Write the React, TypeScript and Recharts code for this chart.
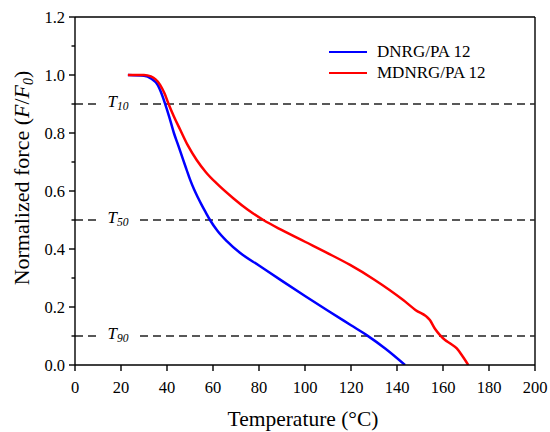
import React from "react";
import { LineChart, Line, XAxis, YAxis, ReferenceLine } from "recharts";

const dnrgTemp = [23, 30, 33, 36, 37, 39, 41, 43, 45, 47, 48.5, 50, 51.8, 53.6, 55, 57, 58.7, 62, 66, 71.7, 80, 90, 100, 110, 120, 126.8, 135, 143.5];
const dnrgForce = [1.0, 0.997, 0.988, 0.965, 0.948, 0.905, 0.855, 0.8, 0.755, 0.708, 0.674, 0.64, 0.605, 0.575, 0.553, 0.524, 0.5, 0.462, 0.427, 0.387, 0.343, 0.29, 0.238, 0.187, 0.137, 0.103, 0.056, 0.0];

const mdnrgTemp = [23, 30, 33, 37, 39, 40.6, 43, 45.7, 49, 52.9, 57, 61.6, 68.8, 75, 81.9, 90, 100, 110, 119.6, 130, 142.7, 148, 154.3, 156.5, 158.7, 160.9, 163, 166, 168.5, 171];
const mdnrgForce = [1.0, 1.0, 0.995, 0.966, 0.935, 0.902, 0.857, 0.812, 0.758, 0.707, 0.664, 0.626, 0.575, 0.536, 0.5, 0.465, 0.425, 0.385, 0.345, 0.295, 0.224, 0.19, 0.155, 0.125, 0.103, 0.086, 0.075, 0.057, 0.03, 0.0];

const xTicks = [0, 20, 40, 60, 80, 100, 120, 140, 160, 180, 200];
const yTicks = [0, 0.1, 0.2, 0.3, 0.4, 0.5, 0.6, 0.7, 0.8, 0.9, 1.0, 1.1, 1.2];
const yMajor = [0, 0.2, 0.4, 0.6, 0.8, 1.0, 1.2];
const thresholds = [0.9, 0.5, 0.1];
const thresholdSubs = ["10", "50", "90"];

const seriesNames = ["DNRG/PA 12", "MDNRG/PA 12"];
const seriesColors = ["#0000ff", "#ff0000"];

const dnrgData = dnrgTemp.map((t, i) => ({ t, f: dnrgForce[i] }));
const mdnrgData = mdnrgTemp.map((t, i) => ({ t, f: mdnrgForce[i] }));

const FONT = "Liberation Serif";
const fontStyle = { fontFamily: FONT };

const YTick = (props: any) => {
  const { x, y, payload } = props;
  const v = payload.value;
  const isMajor = yMajor.some((m) => Math.abs(m - v) < 1e-6);
  return (
    <g>
      <line x1={x - (isMajor ? 6 : 3.5)} x2={x} y1={y} y2={y} stroke="#000" strokeWidth={1.4} />
      {isMajor && (
        <text x={x - 10} y={y} dy="0.35em" textAnchor="end" fontSize={16.5} fontFamily={FONT} style={fontStyle} fill="#000">
          {v.toFixed(1)}
        </text>
      )}
    </g>
  );
};

const XTick = (props: any) => {
  const { x, y, payload } = props;
  return (
    <text x={x} y={y} dy="0.71em" textAnchor="middle" fontSize={16.5} fontFamily={FONT} style={fontStyle} fill="#000">
      {payload.value}
    </text>
  );
};

const TLabel = (props: any) => {
  const { viewBox, sub } = props;
  const cx = viewBox.x + 43;
  const cy = viewBox.y;
  return (
    <g>
      <rect x={cx - 20} y={cy - 10} width={40} height={18} fill="#fff" />
      <text x={cx} y={cy + 3} textAnchor="middle" style={fontStyle} fontStyle="italic" fill="#000" fontSize={17}>
        T
        <tspan fontSize={11.5} dy={3}>{sub}</tspan>
      </text>
    </g>
  );
};

const YLabel = (props: any) => {
  const { viewBox } = props;
  const x = viewBox.x + 29;
  const y = 178;
  return (
    <text x={x} y={y} transform={`rotate(-90, ${x}, ${y})`} textAnchor="middle" style={fontStyle} fontSize={22} fill="#000">
      Normalized force (<tspan fontStyle="italic">F</tspan>/<tspan fontStyle="italic">F</tspan>
      <tspan fontStyle="italic" fontSize={14} dy={4}>0</tspan>
      <tspan dy={-4}>)</tspan>
    </text>
  );
};

const XLabel = (props: any) => {
  const { viewBox } = props;
  const x = viewBox.x + viewBox.width / 2 - 2;
  return (
    <text x={x} y={426} textAnchor="middle" style={fontStyle} fontSize={21.5} fill="#000">
      Temperature (°C)
    </text>
  );
};

const LegendBox = () => (
  <div style={{ position: "absolute", left: 329, top: 41, fontFamily: FONT, fontSize: 17, color: "#000" }}>
    {seriesNames.map((n, i) => (
      <div key={n} style={{ display: "flex", alignItems: "center", height: 21 }}>
        <div style={{ width: 38, height: 0, borderTop: `2.5px solid ${seriesColors[i]}`, marginRight: 10 }} />
        <span style={{ lineHeight: "21px", whiteSpace: "nowrap" }}>{n}</span>
      </div>
    ))}
  </div>
);

export default function App() {
  return (
    <div style={{ position: "absolute", left: 0, top: 0, width: 550, height: 432, background: "#fff" }}>
      <LineChart width={550} height={432} margin={{ top: 17, right: 15, bottom: 37, left: 0 }}>
        <XAxis
          type="number"
          dataKey="t"
          domain={[0, 200]}
          ticks={xTicks}
          interval={0}
          height={30}
          stroke="#000"
          strokeWidth={1.4}
          tickSize={6}
          tickMargin={10}
          tickLine={{ stroke: "#000", strokeWidth: 1.4 }}
          tick={<XTick />}
          label={<XLabel />}
          allowDataOverflow
        />
        <YAxis
          type="number"
          domain={[0, 1.2]}
          ticks={yTicks}
          interval={0}
          width={75}
          stroke="#000"
          strokeWidth={1.4}
          tickSize={0}
          tickMargin={0}
          tickLine={false}
          tick={<YTick />}
          label={<YLabel />}
          allowDataOverflow
        />
        <ReferenceLine y={1.2} stroke="#000" strokeWidth={1.4} ifOverflow="visible" />
        <ReferenceLine x={200} stroke="#000" strokeWidth={1.4} ifOverflow="visible" />
        {thresholds.map((v, i) => (
          <ReferenceLine
            key={v}
            y={v}
            stroke="#222"
            strokeWidth={1.4}
            strokeDasharray="8 5"
            label={<TLabel sub={thresholdSubs[i]} />}
          />
        ))}
        <Line
          data={dnrgData}
          dataKey="f"
          name={seriesNames[0]}
          type="monotone"
          stroke={seriesColors[0]}
          strokeWidth={2.5}
          dot={false}
          isAnimationActive={false}
        />
        <Line
          data={mdnrgData}
          dataKey="f"
          name={seriesNames[1]}
          type="monotone"
          stroke={seriesColors[1]}
          strokeWidth={2.5}
          dot={false}
          isAnimationActive={false}
        />
      </LineChart>
      <LegendBox />
    </div>
  );
}
